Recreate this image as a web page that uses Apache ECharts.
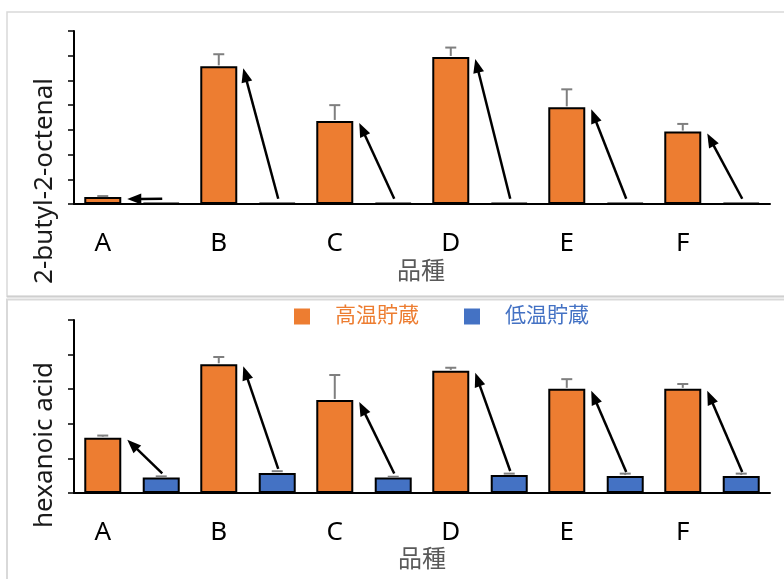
<!DOCTYPE html>
<html>
<head>
<meta charset="utf-8">
<script src="https://cdn.jsdelivr.net/npm/echarts@6/dist/echarts.min.js"></script>
<style>html,body{margin:0;padding:0;background:#fff;}#c{width:784px;height:579px;}</style>
</head>
<body>
<div id="c"></div>
<script>
// ---- data ----
const categories = ['A', 'B', 'C', 'D', 'E', 'F'];
const seriesNames = ['高温貯蔵', '低温貯蔵'];
const xAxisTitle = '品種';
const topTitle = '2-butyl-2-octenal';
const bottomTitle = 'hexanoic acid';

const octenalHigh    = [0.28, 5.57, 3.36, 5.95, 3.91, 2.93];
const octenalHighErr = [0.04, 0.49, 0.64, 0.38, 0.73, 0.31];
const octenalLow     = [0.05, 0.05, 0.05, 0.05, 0.05, 0.05];
const octenalLowErr  = [0, 0, 0, 0, 0, 0];

const hexanoicHigh    = [1.60, 3.72, 2.69, 3.53, 3.01, 3.01];
const hexanoicHighErr = [0.06, 0.21, 0.72, 0.09, 0.28, 0.14];
const hexanoicLow     = [0.45, 0.58, 0.45, 0.52, 0.49, 0.49];
const hexanoicLowErr  = [0.03, 0.05, 0.02, 0.04, 0.07, 0.07];

const topMax = 7, bottomMax = 5;

// ---- style ----
const ORANGE = '#ED7D31', BLUE = '#4472C4';
const BAR_W = 37, GAP_PCT = 0.58;
const OFF = (BAR_W + BAR_W * GAP_PCT) / 2;
const FONT = '"Noto Sans", "Noto Sans CJK JP", sans-serif';

function errRender(sign) {
  return function (params, api) {
    const i = api.value(0), v = api.value(1), e = api.value(2);
    if (!(e > 0)) return null;
    const b = api.coord([i, v]);
    const t = api.coord([i, v + e]);
    const x = b[0] + sign * OFF;
    const st = { stroke: '#7f7f7f', lineWidth: 2 };
    return {
      type: 'group',
      children: [
        { type: 'line', shape: { x1: x, y1: b[1] - 1, x2: x, y2: t[1] }, style: st },
        { type: 'line', shape: { x1: x - 5.5, y1: t[1], x2: x + 5.5, y2: t[1] }, style: st }
      ]
    };
  };
}

function arrowRender(params, api) {
  const i = api.value(0), hi = api.value(1), lo = api.value(2);
  const h = api.coord([i, hi]);
  const l = api.coord([i, lo]);
  const tipX = h[0] - OFF + BAR_W / 2 + 6, tipY = h[1] + 2;
  const tailX = l[0] + OFF + 1, tailY = l[1] - 4;
  const dx = tailX - tipX, dy = tailY - tipY;
  const len = Math.sqrt(dx * dx + dy * dy);
  const ux = dx / len, uy = dy / len;
  const HL = 14, HW = 5.5;
  const bx = tipX + ux * HL, by = tipY + uy * HL;
  const px = -uy, py = ux;
  return {
    type: 'group',
    children: [
      { type: 'line', shape: { x1: tailX, y1: tailY, x2: bx - ux * 1, y2: by - uy * 1 },
        style: { stroke: '#000', lineWidth: 2.5 } },
      { type: 'polygon', shape: { points: [[tipX, tipY], [bx + px * HW, by + py * HW], [bx - px * HW, by - py * HW]] },
        style: { fill: '#000' } }
    ]
  };
}

function xAxisCfg(gi) {
  return {
    type: 'category', gridIndex: gi, data: categories,
    axisLine: { lineStyle: { color: '#000', width: 2 } },
    axisTick: { show: false },
    axisLabel: {
      margin: 27, fontSize: 26, fontFamily: FONT, color: '#000',
      formatter: '{a|{value}}',
      rich: { a: { fontSize: 26, fontFamily: FONT, color: '#000', padding: [0, 2 * OFF, 0, 0] } }
    }
  };
}
function yAxisCfg(gi, max) {
  return {
    type: 'value', gridIndex: gi, min: 0, max: max, interval: 1,
    axisLine: { show: true, lineStyle: { color: '#000', width: 2 } },
    axisTick: { show: true, length: 6, lineStyle: { color: '#000', width: 1.5 } },
    axisLabel: { show: false },
    splitLine: { show: false }
  };
}
function barSeries(name, data, color, gi) {
  return {
    type: 'bar', name: name, xAxisIndex: gi, yAxisIndex: gi, data: data,
    barWidth: BAR_W, barGap: (GAP_PCT * 100) + '%',
    itemStyle: { color: color, borderColor: '#000', borderWidth: 2 },
    z: 2
  };
}
function errSeries(vals, errs, sign, gi) {
  return {
    type: 'custom', xAxisIndex: gi, yAxisIndex: gi,
    data: vals.map((v, i) => [i, v, errs[i]]),
    encode: { x: 0, y: 1 },
    renderItem: errRender(sign), z: 3, silent: true
  };
}
function arrowSeries(hi, lo, gi) {
  return {
    type: 'custom', xAxisIndex: gi, yAxisIndex: gi,
    data: hi.map((v, i) => [i, v, lo[i]]),
    encode: { x: 0, y: 1 },
    renderItem: arrowRender, z: 4, silent: true
  };
}

const chart = echarts.init(document.getElementById('c'), null, { renderer: 'canvas' });
chart.setOption({
  animation: false,
  backgroundColor: '#fff',
  graphic: [
    { type: 'rect', shape: { x: 7, y: 12, width: 790, height: 284.5 }, style: { fill: 'none', stroke: '#d9d9d9', lineWidth: 1.5 }, z: -10 },
    { type: 'line', shape: { x1: 7, y1: 296.5, x2: 790, y2: 296.5 }, style: { stroke: '#cfcfcf', lineWidth: 2 }, z: -10 },
    { type: 'rect', shape: { x: 7, y: 299.5, width: 790, height: 300 }, style: { fill: 'none', stroke: '#d9d9d9', lineWidth: 2 }, z: -10 },
    { type: 'text', x: 45, y: 181, rotation: Math.PI / 2,
      style: { text: topTitle, font: '26px ' + FONT, fill: '#1a1a1a', textAlign: 'center', textVerticalAlign: 'middle' } },
    { type: 'text', x: 45, y: 445, rotation: Math.PI / 2,
      style: { text: bottomTitle, font: '26px ' + FONT, fill: '#1a1a1a', textAlign: 'center', textVerticalAlign: 'middle' } },
    { type: 'text', x: 421, y: 272,
      style: { text: xAxisTitle, font: '24px ' + FONT, fill: '#595959', textAlign: 'center', textVerticalAlign: 'middle' } },
    { type: 'text', x: 422, y: 560,
      style: { text: xAxisTitle, font: '24px ' + FONT, fill: '#595959', textAlign: 'center', textVerticalAlign: 'middle' } }
  ],
  legend: {
    data: seriesNames, left: 289, top: 301,
    icon: 'rect', itemWidth: 16, itemHeight: 16, itemGap: 45,
    itemStyle: { borderWidth: 0 },
    textStyle: { fontSize: 21, fontFamily: FONT, color: 'inherit', padding: [0, 0, 0, 20] }
  },
  grid: [
    { left: 74, right: 14, top: 31, height: 173 },
    { left: 74, right: 14, top: 320, height: 173 }
  ],
  xAxis: [xAxisCfg(0), xAxisCfg(1)],
  yAxis: [yAxisCfg(0, topMax), yAxisCfg(1, bottomMax)],
  series: [
    barSeries(seriesNames[0], octenalHigh, ORANGE, 0),
    barSeries(seriesNames[1], octenalLow, BLUE, 0),
    errSeries(octenalHigh, octenalHighErr, -1, 0),
    errSeries(octenalLow, octenalLowErr, 1, 0),
    arrowSeries(octenalHigh, octenalLow, 0),
    barSeries(seriesNames[0], hexanoicHigh, ORANGE, 1),
    barSeries(seriesNames[1], hexanoicLow, BLUE, 1),
    errSeries(hexanoicHigh, hexanoicHighErr, -1, 1),
    errSeries(hexanoicLow, hexanoicLowErr, 1, 1),
    arrowSeries(hexanoicHigh, hexanoicLow, 1)
  ]
});
</script>
</body>
</html>
